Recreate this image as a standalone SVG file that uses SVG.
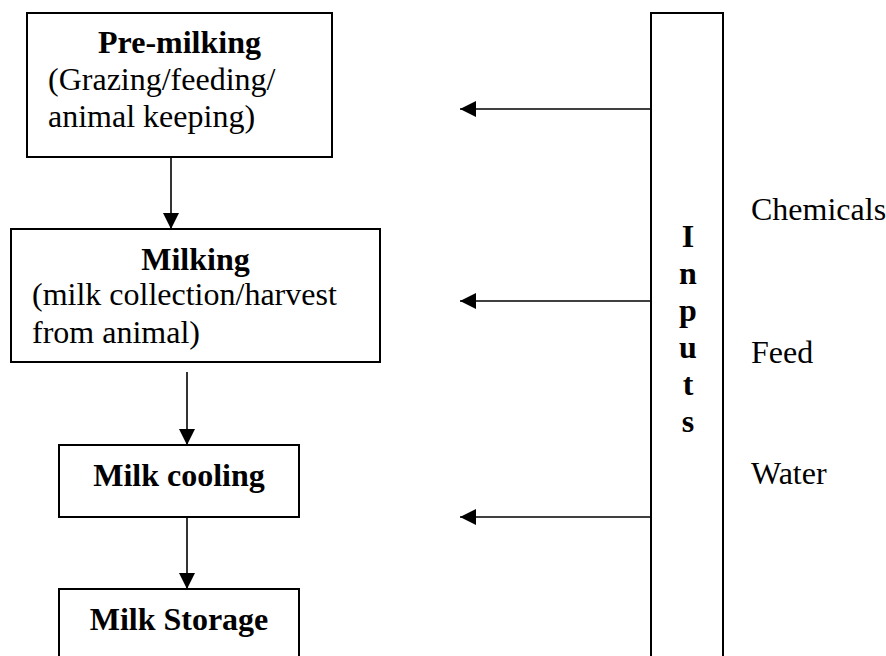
<svg xmlns="http://www.w3.org/2000/svg" width="886" height="656" viewBox="0 0 886 656">
<defs>
<style>
.box{fill:#fff;stroke:#000;stroke-width:2}
.ln{stroke:#000;stroke-width:1.6;fill:none}
text{font-family:"Liberation Serif","Times New Roman",serif;font-size:32px;fill:#000}
.b{font-weight:bold}
.c{text-anchor:middle}
</style>
<marker id="ah" viewBox="0 0 16 16" refX="16" refY="8" markerWidth="16" markerHeight="16" markerUnits="userSpaceOnUse" orient="auto">
<path d="M0,0 L16,8 L0,16 Z" fill="#000"/>
</marker>
</defs>
<rect width="886" height="656" fill="#fff"/>
<g id="premilking">
<rect class="box" x="27" y="13" width="305" height="144"/>
<text class="b c" x="179.5" y="53">Pre-milking</text>
<text x="48" y="90">(Grazing/feeding/</text>
<text x="48" y="127">animal keeping)</text>
</g>
<g id="milking">
<rect class="box" x="11" y="229" width="369" height="133"/>
<text class="b c" x="195.5" y="270">Milking</text>
<text x="32" y="305">(milk collection/harvest</text>
<text x="32" y="343">from animal)</text>
</g>
<g id="cooling">
<rect class="box" x="59" y="445" width="240" height="72"/>
<text class="b c" x="179" y="486">Milk cooling</text>
</g>
<g id="storage">
<rect class="box" x="59" y="589" width="240" height="80"/>
<text class="b c" x="179" y="630">Milk Storage</text>
</g>
<g id="inputs">
<rect class="box" x="651" y="13" width="72" height="660"/>
<text class="b c" x="688"><tspan x="688" y="247">I</tspan><tspan x="688" y="284">n</tspan><tspan x="688" y="321">p</tspan><tspan x="688" y="358">u</tspan><tspan x="688" y="395">t</tspan><tspan x="688" y="432">s</tspan></text>
</g>
<g id="labels">
<text x="751" y="220">Chemicals</text>
<text x="751" y="363">Feed</text>
<text x="751" y="484">Water</text>
</g>
<g id="connectors">
<line class="ln" x1="171" y1="157" x2="171" y2="229" marker-end="url(#ah)"/>
<line class="ln" x1="187" y1="372" x2="187" y2="445" marker-end="url(#ah)"/>
<line class="ln" x1="187" y1="517" x2="187" y2="589" marker-end="url(#ah)"/>
<line class="ln" x1="651" y1="109" x2="460" y2="109" marker-end="url(#ah)"/>
<line class="ln" x1="651" y1="301" x2="460" y2="301" marker-end="url(#ah)"/>
<line class="ln" x1="651" y1="517" x2="460" y2="517" marker-end="url(#ah)"/>
</g>
</svg>
